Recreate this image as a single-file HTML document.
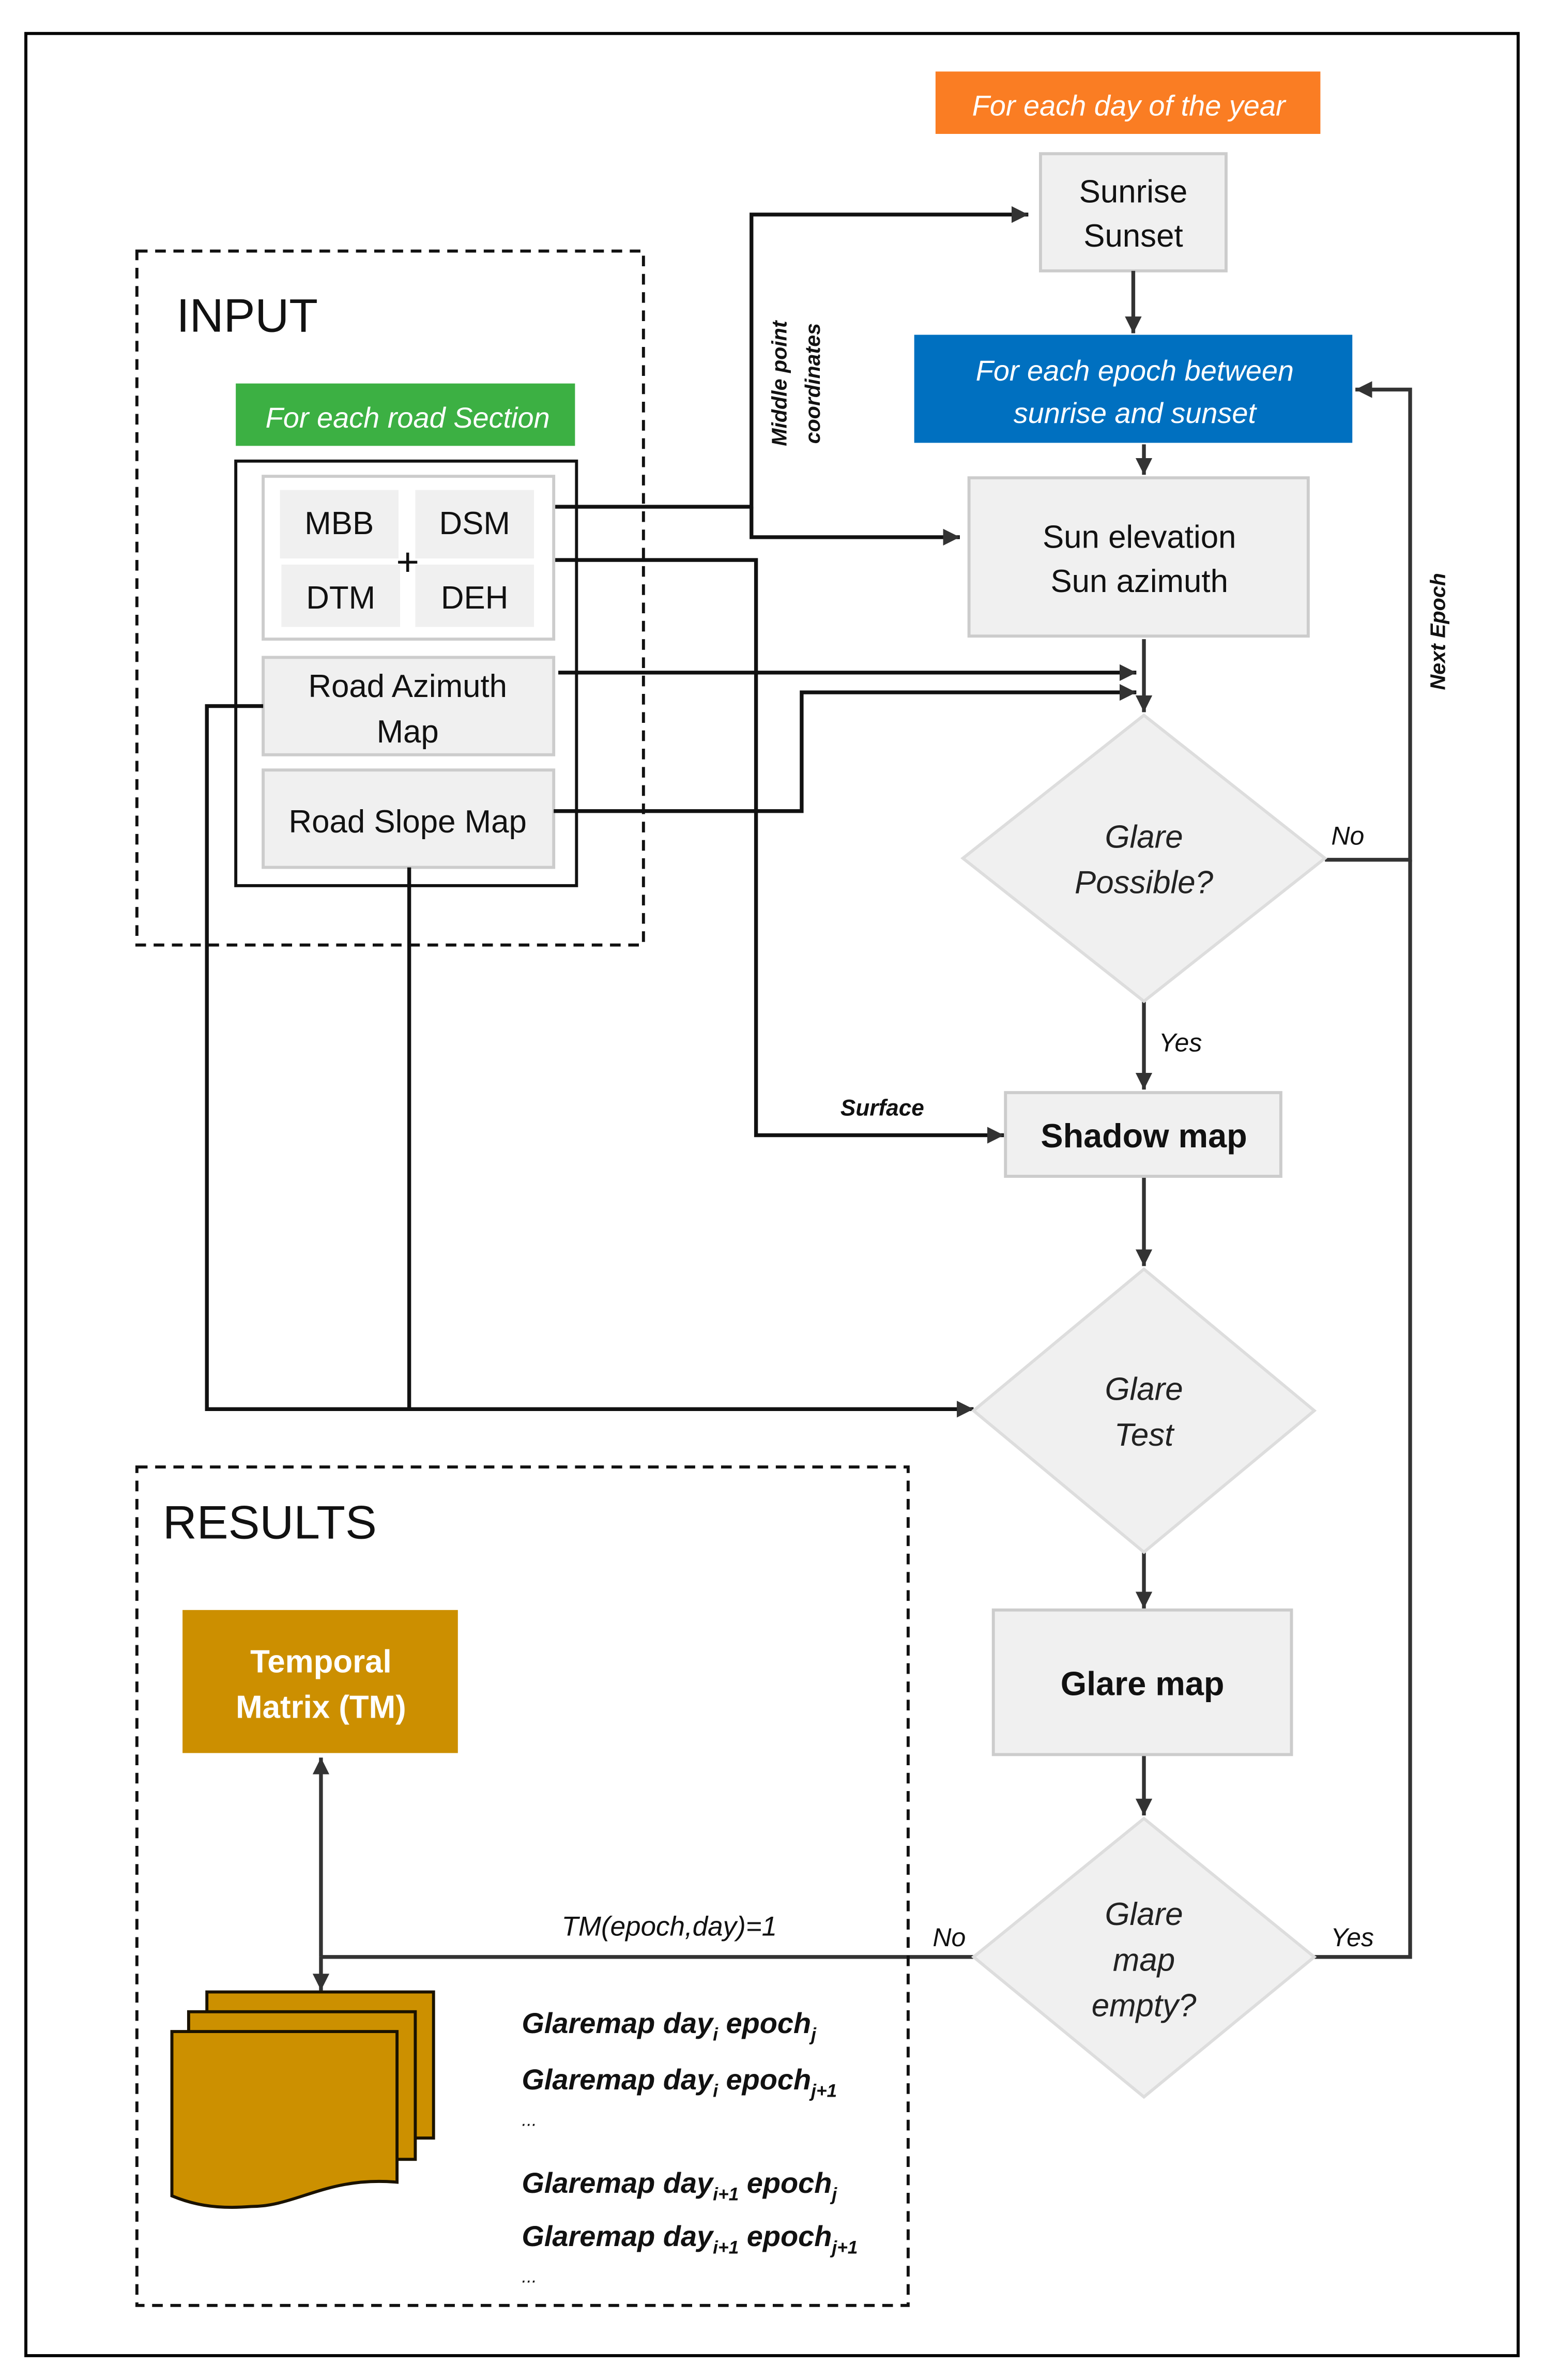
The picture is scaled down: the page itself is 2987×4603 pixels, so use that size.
<!DOCTYPE html>
<html><head><meta charset="utf-8"><style>
html,body{margin:0;padding:0;background:#fff}
svg{display:block}
text{font-family:"Liberation Sans",sans-serif}
</style></head><body>
<svg width="2987" height="4603" viewBox="0 0 1015 1564" preserveAspectRatio="none" xmlns="http://www.w3.org/2000/svg">
<defs>
<marker id="a" viewBox="0 0 10 10" refX="10" refY="5" markerWidth="5" markerHeight="5" orient="auto-start-reverse" markerUnits="userSpaceOnUse" style="overflow:visible">
<path d="M0,0 L10,5 L0,10 z" fill="#222"/>
</marker>
<marker id="b" viewBox="0 0 10 10" refX="10" refY="5" markerWidth="11" markerHeight="11" orient="auto-start-reverse" markerUnits="userSpaceOnUse">
<path d="M0,0 L10,5 L0,10 z" fill="#333"/>
</marker>
</defs>
<rect x="17" y="22" width="981" height="1526" fill="none" stroke="#000" stroke-width="2"/>

<!-- top boxes -->
<rect x="615" y="47" width="253" height="41" fill="#fa7d23"/>
<text x="742" y="76" font-size="19" font-style="italic" fill="#fff" text-anchor="middle">For each day of the year</text>
<rect x="684" y="101" width="122" height="77" fill="#f0f0f0" stroke="#ccc" stroke-width="2"/>
<text x="745" y="133" font-size="21" text-anchor="middle" fill="#111">Sunrise</text>
<text x="745" y="162" font-size="21" text-anchor="middle" fill="#111">Sunset</text>
<rect x="601" y="220" width="288" height="71" fill="#0070c0"/>
<text x="746" y="250" font-size="19" font-style="italic" fill="#fff" text-anchor="middle">For each epoch between</text>
<text x="746" y="278" font-size="19" font-style="italic" fill="#fff" text-anchor="middle">sunrise and sunset</text>
<rect x="637" y="314" width="223" height="104" fill="#f0f0f0" stroke="#ccc" stroke-width="2"/>
<text x="749" y="360" font-size="21" text-anchor="middle" fill="#111">Sun elevation</text>
<text x="749" y="389" font-size="21" text-anchor="middle" fill="#111">Sun azimuth</text>

<!-- INPUT -->
<rect x="90" y="165" width="333" height="456" fill="none" stroke="#111" stroke-width="2" stroke-dasharray="7,5"/>
<text x="116" y="218" font-size="31" fill="#111">INPUT</text>
<rect x="155" y="252" width="223" height="41" fill="#3cb043"/>
<text x="268" y="281" font-size="19" font-style="italic" fill="#fff" text-anchor="middle">For each road Section</text>
<rect x="155" y="303" width="224" height="279" fill="none" stroke="#111" stroke-width="2"/>
<rect x="173" y="313" width="191" height="107" fill="#fff" stroke="#ccc" stroke-width="2"/>
<rect x="184" y="322" width="78" height="45" fill="#f0f0f0"/>
<rect x="273" y="322" width="78" height="45" fill="#f0f0f0"/>
<rect x="185" y="371" width="78" height="41" fill="#f0f0f0"/>
<rect x="273" y="371" width="78" height="41" fill="#f0f0f0"/>
<text x="223" y="351" font-size="21" text-anchor="middle" fill="#111">MBB</text>
<text x="312" y="351" font-size="21" text-anchor="middle" fill="#111">DSM</text>
<text x="224" y="400" font-size="21" text-anchor="middle" fill="#111">DTM</text>
<text x="312" y="400" font-size="21" text-anchor="middle" fill="#111">DEH</text>
<text x="268" y="378" font-size="26" text-anchor="middle" fill="#111">+</text>
<rect x="173" y="432" width="191" height="64" fill="#f0f0f0" stroke="#ccc" stroke-width="2"/>
<text x="268" y="458" font-size="21" text-anchor="middle" fill="#111">Road Azimuth</text>
<text x="268" y="488" font-size="21" text-anchor="middle" fill="#111">Map</text>
<rect x="173" y="506" width="191" height="64" fill="#f0f0f0" stroke="#ccc" stroke-width="2"/>
<text x="268" y="547" font-size="21" text-anchor="middle" fill="#111">Road Slope Map</text>

<!-- connectors -->
<g fill="none" stroke="#111" stroke-width="2.5">
<path d="M365,333 H494 V141 H676" marker-end="url(#b)"/>
<path d="M494,333 V353 H631" marker-end="url(#b)"/>
<path d="M365,368 H497 V746 H660" marker-end="url(#b)"/>
<path d="M367,442 H747" marker-end="url(#b)"/>
<path d="M364,533 H527 V455 H747" marker-end="url(#b)"/>
<path d="M173,464 H136 V926 H640" marker-end="url(#b)"/>
<path d="M269,570 V926"/>
</g>
<g fill="none" stroke="#333" stroke-width="2.5">
<path d="M745,178 V219" marker-end="url(#b)"/>
<path d="M752,292 V312" marker-end="url(#b)"/>
<path d="M752,420 V468" marker-end="url(#b)"/>
<path d="M871,565 H927 V256 H891" marker-end="url(#b)"/>
<path d="M752,658 V716" marker-end="url(#b)"/>
<path d="M752,773 V832" marker-end="url(#b)"/>
<path d="M752,1020 V1057" marker-end="url(#b)"/>
<path d="M752,1153 V1193" marker-end="url(#b)"/>
<path d="M864,1286 H927 V565"/>
<path d="M640,1286 H211"/>
<path d="M211,1286 V1155" marker-end="url(#b)"/>
<path d="M211,1286 V1308" marker-end="url(#b)"/>
</g>
<text transform="translate(517,252) rotate(-90)" font-size="14" font-weight="bold" font-style="italic" text-anchor="middle" fill="#111">Middle point</text>
<text transform="translate(539,252) rotate(-90)" font-size="14" font-weight="bold" font-style="italic" text-anchor="middle" fill="#111">coordinates</text>
<text transform="translate(950,415) rotate(-90)" font-size="14" font-weight="bold" font-style="italic" text-anchor="middle" fill="#111">Next Epoch</text>
<text x="580" y="733" font-size="15" font-weight="bold" font-style="italic" text-anchor="middle" fill="#111">Surface</text>
<text x="886" y="555" font-size="17" font-style="italic" text-anchor="middle" fill="#111">No</text>
<text x="776" y="691" font-size="17" font-style="italic" text-anchor="middle" fill="#111">Yes</text>
<text x="889" y="1279" font-size="17" font-style="italic" text-anchor="middle" fill="#111">Yes</text>
<text x="624" y="1279" font-size="17" font-style="italic" text-anchor="middle" fill="#111">No</text>
<text x="440" y="1272" font-size="18" font-style="italic" text-anchor="middle" fill="#111">TM(epoch,day)=1</text>

<!-- diamonds -->
<polygon points="752,470 871,564 752,658 633,564" fill="#f0f0f0" stroke="#ddd" stroke-width="2"/>
<text x="752" y="557" font-size="21" font-style="italic" text-anchor="middle" fill="#222">Glare</text>
<text x="752" y="587" font-size="21" font-style="italic" text-anchor="middle" fill="#222">Possible?</text>
<rect x="661" y="718" width="181" height="55" fill="#f0f0f0" stroke="#ccc" stroke-width="2"/>
<text x="752" y="754" font-size="22" font-weight="bold" text-anchor="middle" fill="#111">Shadow map</text>
<polygon points="752,834 864,927 752,1020 640,927" fill="#f0f0f0" stroke="#ddd" stroke-width="2"/>
<text x="752" y="920" font-size="21" font-style="italic" text-anchor="middle" fill="#222">Glare</text>
<text x="752" y="950" font-size="21" font-style="italic" text-anchor="middle" fill="#222">Test</text>
<rect x="653" y="1058" width="196" height="95" fill="#f0f0f0" stroke="#ccc" stroke-width="2"/>
<text x="751" y="1114" font-size="22" font-weight="bold" text-anchor="middle" fill="#111">Glare map</text>
<polygon points="752,1195 864,1286 752,1378 640,1286" fill="#f0f0f0" stroke="#ddd" stroke-width="2"/>
<text x="752" y="1265" font-size="21" font-style="italic" text-anchor="middle" fill="#222">Glare</text>
<text x="752" y="1295" font-size="21" font-style="italic" text-anchor="middle" fill="#222">map</text>
<text x="752" y="1325" font-size="21" font-style="italic" text-anchor="middle" fill="#222">empty?</text>

<!-- RESULTS -->
<rect x="90" y="964" width="507" height="551" fill="none" stroke="#111" stroke-width="2" stroke-dasharray="7,5"/>
<text x="107" y="1011" font-size="31" fill="#111">RESULTS</text>
<rect x="120" y="1058" width="181" height="94" fill="#cc8f00"/>
<text x="211" y="1099" font-size="21" font-weight="bold" text-anchor="middle" fill="#fff">Temporal</text>
<text x="211" y="1129" font-size="21" font-weight="bold" text-anchor="middle" fill="#fff">Matrix (TM)</text>
<g fill="#cc9000" stroke="#1a1200" stroke-width="2">
<rect x="136" y="1309" width="149" height="96"/>
<rect x="124" y="1322" width="149" height="97"/>
<path d="M113,1335 H261 V1434 C215,1430 195,1450 165,1450 C140,1452 125,1448 113,1443 Z"/>
</g>
<g font-size="19" font-weight="bold" font-style="italic" fill="#111">
<text x="343" y="1336">Glaremap day<tspan font-size="12" dy="5">i</tspan><tspan dy="-5"> epoch</tspan><tspan font-size="12" dy="5">j</tspan></text>
<text x="343" y="1373">Glaremap day<tspan font-size="12" dy="5">i</tspan><tspan dy="-5"> epoch</tspan><tspan font-size="12" dy="5">j+1</tspan></text>
<text x="343" y="1397" font-size="12" font-weight="normal">...</text>
<text x="343" y="1441">Glaremap day<tspan font-size="12" dy="5">i+1</tspan><tspan dy="-5"> epoch</tspan><tspan font-size="12" dy="5">j</tspan></text>
<text x="343" y="1476">Glaremap day<tspan font-size="12" dy="5">i+1</tspan><tspan dy="-5"> epoch</tspan><tspan font-size="12" dy="5">j+1</tspan></text>
<text x="343" y="1500" font-size="12" font-weight="normal">...</text>
</g>
</svg>
</body></html>
